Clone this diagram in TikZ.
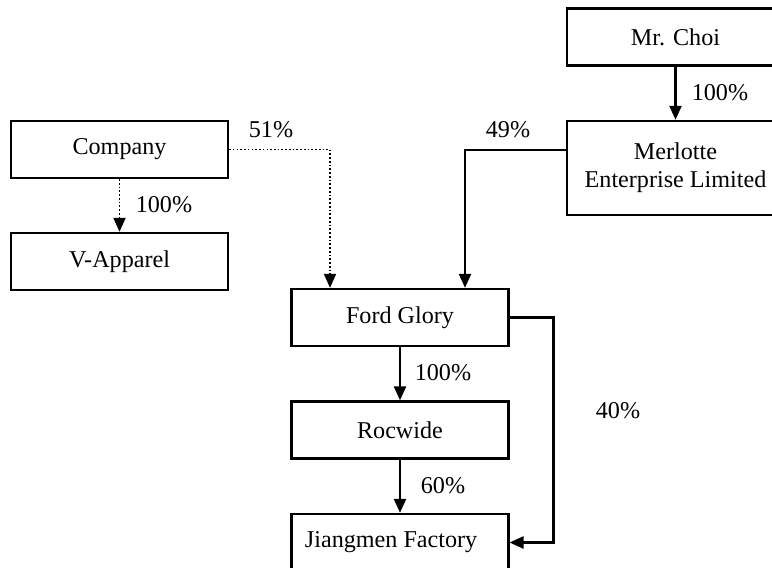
\documentclass[tikz,border=0pt]{standalone}
\usepackage{fontspec}
\setmainfont{Liberation Serif}
\usetikzlibrary{arrows.meta}

\begin{document}
\begin{tikzpicture}[x=0.015cm,y=-0.015cm,font=\fontsize{10.3}{12}\selectfont,
  >={Triangle[length=0.21cm,width=0.18cm]},
  box/.style={draw,line width=1pt,minimum width=3.25cm,minimum height=0.855cm,inner sep=2pt},
  link/.style={line width=1pt},
  dotlink/.style={line width=0.8pt,dash pattern=on 0.7pt off 0.9pt}]
  \useasboundingbox (0,0) rectangle (772,568);
  % --- boxes
  \node[box] (company) at (119.5,149.5) {Company};
  \node[box] (vapp) at (119.5,261.5) {V-Apparel};
  \node[box] (choi) at (675.5,37) {Mr. Choi};
  \node[box,minimum height=1.41cm,align=center] (merlotte) at (675.5,168) {Merlotte\\Enterprise Limited};
  \node[box] (ford) at (400,317.5) {Ford Glory};
  \node[box] (rocwide) at (400,430) {Rocwide};
  \node[box,inner xsep=0.195cm,text width=2.85cm,align=flush left] (jiangmen) at (400,542.5) {Jiangmen Factory};
  % --- entry points on Ford Glory
  \coordinate (inA) at ([xshift=-1.05cm]ford.north);
  \coordinate (inB) at ([xshift=0.975cm]ford.north);
  \coordinate (outM) at ([yshift=0.27cm]merlotte.west);
  % --- connectors
  \draw[dotlink,->] (company.south) -- (vapp.north);
  \draw[dotlink,->] (company.east) -| (inA);
  \draw[link,->] (choi.south) -- (merlotte.north);
  \draw[link,->] (outM) -| (inB);
  \draw[link,->] (ford.south) -- (rocwide.north);
  \draw[link,->] (rocwide.south) -- (jiangmen.north);
  \draw[link,->] (ford.east) -- ++(44,0) |- (jiangmen.east);
  % --- shares
  \node (p51) at (271,130) {51\%};
  \node (p100a) at (164,205) {100\%};
  \node (p100b) at (720,93) {100\%};
  \node (p49) at (508,130) {49\%};
  \node (p100c) at (443,373) {100\%};
  \node (p60) at (443,486) {60\%};
  \node (p40) at (618,411) {40\%};
\end{tikzpicture}
\end{document}
